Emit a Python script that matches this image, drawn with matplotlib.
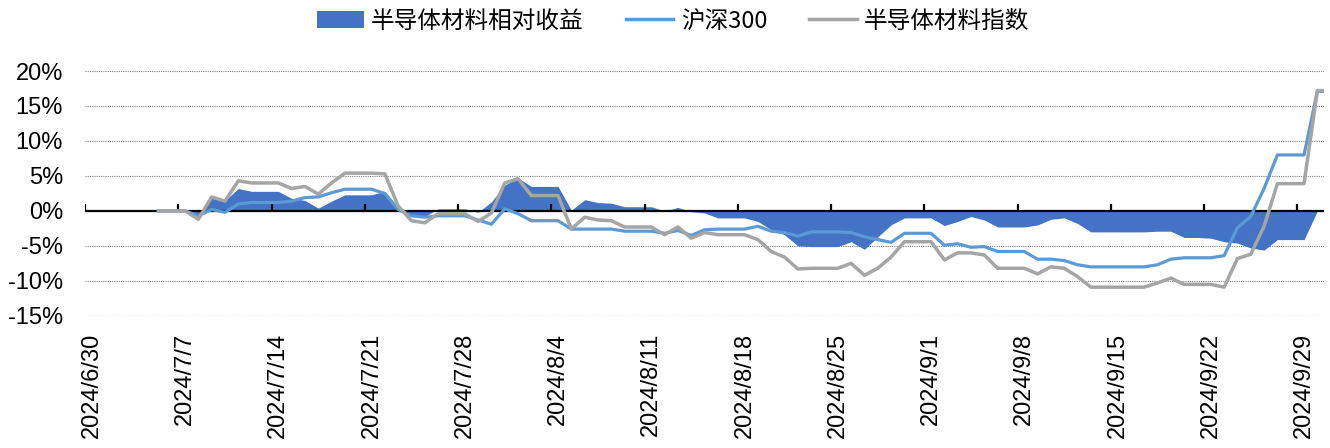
"""Semiconductor materials index vs CSI 300, relative return chart."""

import numpy as np
import pandas as pd
import matplotlib
matplotlib.use("Agg")
import matplotlib.pyplot as plt
import matplotlib.dates as mdates
from matplotlib.patches import Patch
from matplotlib.lines import Line2D

plt.rcParams["font.family"] = ["Liberation Sans", "Noto Sans CJK SC", "DejaVu Sans"]

# daily values (%), weekends / holidays carried forward, 2024-07-05 .. 2024-10-01
dates = pd.date_range("2024-07-05", "2024-10-01", freq="D")

semi_index = [
    0.0, 0.0, 0.0, -1.2, 2.0, 1.4, 4.3, 4.0, 4.0, 4.0,
    3.2, 3.5, 2.4, 4.0, 5.4, 5.4, 5.4, 5.3, 0.7, -1.4,
    -1.7, -0.4, -0.4, -0.4, -1.5, -0.3, 4.0, 4.6, 2.2, 2.2,
    2.2, -2.6, -0.9, -1.3, -1.4, -2.3, -2.3, -2.3, -3.4, -2.3,
    -3.9, -3.1, -3.4, -3.4, -3.4, -4.1, -5.8, -6.6, -8.3, -8.2,
    -8.2, -8.2, -7.5, -9.2, -8.2, -6.6, -4.4, -4.4, -4.4, -7.0,
    -6.0, -6.0, -6.3, -8.2, -8.2, -8.2, -9.0, -8.0, -8.2, -9.4,
    -10.9, -10.9, -10.9, -10.9, -10.9, -10.3, -9.6, -10.5, -10.5, -10.5,
    -10.9, -6.8, -6.2, -2.2, 3.9, 3.9, 3.9, 17.2, 17.2,
]

hs300 = [
    0.0, 0.0, 0.0, -0.7, 0.2, -0.2, 1.0, 1.2, 1.2, 1.2,
    1.4, 1.9, 2.0, 2.6, 3.1, 3.1, 3.1, 2.5, 0.2, -0.7,
    -0.9, -0.7, -0.7, -0.7, -1.3, -1.9, 0.3, -0.4, -1.4, -1.4,
    -1.4, -2.6, -2.6, -2.6, -2.6, -2.9, -2.9, -2.9, -3.2, -2.8,
    -3.5, -2.7, -2.6, -2.6, -2.6, -2.2, -2.9, -3.1, -3.6, -3.0,
    -3.0, -3.0, -3.1, -3.7, -4.1, -4.5, -3.2, -3.2, -3.2, -4.9,
    -4.7, -5.2, -5.1, -5.8, -5.8, -5.8, -6.9, -6.9, -7.1, -7.7,
    -8.0, -8.0, -8.0, -8.0, -8.0, -7.7, -6.9, -6.7, -6.7, -6.7,
    -6.4, -2.4, -0.8, 3.2, 8.0, 8.0, 8.0, 17.1, 17.1,
]

relative = [
    0.0, 0.0, 0.0, -0.5, 1.8, 1.5, 3.2, 2.8, 2.8, 2.8,
    1.8, 1.5, 0.4, 1.4, 2.3, 2.3, 2.3, 2.8, 0.5, -0.7,
    -0.8, 0.3, 0.3, 0.3, -0.2, 1.3, 3.7, 4.7, 3.5, 3.5,
    3.5, 0.1, 1.6, 1.2, 1.1, 0.6, 0.6, 0.6, 0.0, 0.5,
    -0.1, -0.3, -1.0, -1.0, -1.0, -1.5, -2.7, -3.4, -5.0, -5.1,
    -5.1, -5.1, -4.4, -5.5, -3.7, -2.0, -1.0, -1.0, -1.0, -2.1,
    -1.5, -0.8, -1.3, -2.3, -2.3, -2.3, -2.0, -1.2, -1.0, -1.8,
    -3.0, -3.0, -3.0, -3.0, -3.0, -2.9, -2.9, -3.8, -3.8, -3.9,
    -4.4, -4.6, -5.3, -5.6, -4.1, -4.1, -4.1, 0.0, 0.0,
]

tick_dates = pd.date_range("2024-06-30", "2024-09-29", freq="7D")
y_ticks = [-15, -10, -5, 0, 5, 10, 15, 20]

C_FILL = "#4472C4"
C_HS300 = "#5B9BD5"
C_SEMI = "#A5A5A5"

# each day is plotted in the middle of its slot (Excel date axis style)
x = mdates.date2num(dates) + 0.5
x_ticks = mdates.date2num(tick_dates)

fig = plt.figure(figsize=(13.3, 4.48), dpi=100)
ax = fig.add_axes([0.064, 0.295, 0.9315, 0.5465])

ax.fill_between(x, 0, relative, color=C_FILL, lw=0, zorder=2)
ax.axhline(0, color="black", lw=1.6, zorder=3)
# small upward tick marks on the zero line
ax.vlines(x_ticks, 0, 1.0, color="black", lw=1.6, zorder=3)
ax.plot(x, hs300, color=C_HS300, lw=2.3, zorder=4)
ax.plot(x, semi_index, color=C_SEMI, lw=2.5, zorder=5)

ax.set_xlim(mdates.date2num(pd.Timestamp("2024-06-30")),
            mdates.date2num(pd.Timestamp("2024-10-01")))
ax.set_ylim(-15, 20)
ax.set_yticks(y_ticks)
ax.set_yticklabels([f"{v}%" for v in y_ticks])
ax.yaxis.grid(True, linestyle=(0, (1, 1)), color="#7f7f7f", lw=0.8)
ax.set_axisbelow(True)

ax.set_xticks(x_ticks + 0.5)
ax.set_xticklabels([f"{d.year}/{d.month}/{d.day}" for d in tick_dates],
                   rotation=90, va="top", ha="center")
ax.tick_params(axis="x", length=0, pad=12, labelsize=17)
ax.tick_params(axis="y", length=0, pad=16, labelsize=17)
for s in ax.spines.values():
    s.set_visible(False)

handles = [
    Patch(facecolor=C_FILL, edgecolor="none"),
    Line2D([0], [0], color=C_HS300, lw=2.5),
    Line2D([0], [0], color=C_SEMI, lw=2.5),
]
labels = ["半导体材料相对收益", "沪深300", "半导体材料指数"]
fig.legend(handles, labels, loc="center", bbox_to_anchor=(0.506, 0.953), ncol=3,
           frameon=False, handlelength=2.0, handletextpad=0.3, columnspacing=1.8,
           prop={"family": ["Noto Sans CJK SC", "DejaVu Sans"], "size": 17})

fig.savefig("out.png", dpi=100)
